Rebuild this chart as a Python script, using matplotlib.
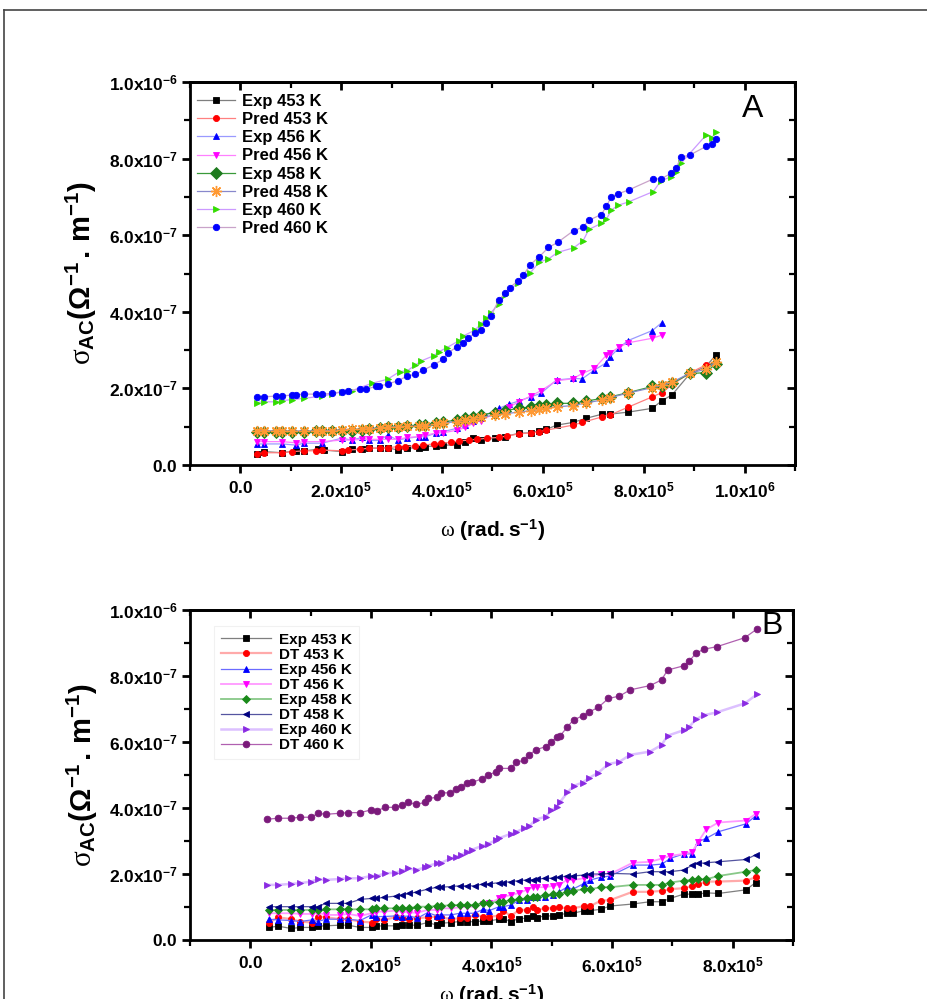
import numpy as np
import matplotlib
matplotlib.use("Agg")
import matplotlib.pyplot as plt
from matplotlib.ticker import MultipleLocator, FuncFormatter, NullFormatter
from matplotlib.lines import Line2D

plt.rcParams['font.family'] = ['Liberation Sans', 'DejaVu Sans']
plt.rcParams['mathtext.fontset'] = 'custom'
plt.rcParams['mathtext.rm'] = 'Liberation Sans'
plt.rcParams['mathtext.bf'] = 'Liberation Sans:bold'
plt.rcParams['mathtext.it'] = 'Liberation Serif'

# ---------------- Panel A data (omega in 1e5 rad/s, sigma in 1e-7 S/m) ----------------
omega_A453 = [0.32, 0.47, 0.83, 1.10, 1.26, 1.54, 1.66, 2.01, 2.21, 2.41,
              2.56, 2.76, 2.92, 3.12, 3.31, 3.55, 3.67, 3.87, 4.02, 4.30,
              4.46, 4.62, 4.77, 5.05, 5.25, 5.52, 5.76, 5.92, 6.07, 6.27,
              6.59, 6.86, 7.18, 7.34, 7.69, 8.17, 8.36, 8.56, 8.92, 9.23, 9.43]
exp_A453 = [0.30, 0.35, 0.32, 0.37, 0.37, 0.41, 0.39, 0.35, 0.41, 0.41,
            0.44, 0.44, 0.45, 0.39, 0.44, 0.45, 0.48, 0.50, 0.52, 0.52,
            0.59, 0.70, 0.65, 0.70, 0.74, 0.83, 0.84, 0.89, 0.93, 1.04,
            1.11, 1.22, 1.33, 1.33, 1.38, 1.48, 1.68, 1.83, 2.39, 2.57, 2.87]
omega_A453p = [0.32, 0.47, 0.83, 1.03, 1.26, 1.50, 1.62, 2.01, 2.13, 2.37,
               2.56, 2.76, 2.92, 3.12, 3.27, 3.47, 3.63, 3.83, 3.98, 4.18,
               4.34, 4.54, 4.70, 4.89, 5.13, 5.29, 5.52, 5.76, 5.92, 6.07,
               6.59, 6.78, 7.18, 7.34, 7.69, 8.17, 8.36, 8.56, 8.92, 9.23, 9.43]
pred_A453 = [0.29, 0.32, 0.32, 0.35, 0.37, 0.37, 0.39, 0.37, 0.39, 0.41,
             0.44, 0.44, 0.45, 0.48, 0.48, 0.50, 0.52, 0.55, 0.57, 0.59,
             0.63, 0.65, 0.67, 0.70, 0.72, 0.76, 0.81, 0.84, 0.87, 0.91,
             1.04, 1.11, 1.26, 1.31, 1.51, 1.78, 1.89, 2.09, 2.41, 2.61, 2.70]

omega_A456 = [0.32, 0.47, 0.83, 1.10, 1.26, 1.62, 2.01, 2.21, 2.41, 2.56,
              2.76, 2.92, 3.12, 3.31, 3.55, 3.67, 3.87, 4.02, 4.30, 4.46,
              4.62, 4.77, 5.05, 5.13, 5.33, 5.52, 5.76, 5.96, 6.27, 6.59,
              6.78, 7.02, 7.26, 7.34, 7.50, 7.69, 8.17, 8.36]
exp_A456 = [0.55, 0.55, 0.55, 0.52, 0.57, 0.57, 0.70, 0.65, 0.72, 0.64,
            0.64, 0.78, 0.65, 0.70, 0.74, 0.74, 0.83, 0.87, 0.96, 1.04,
            1.16, 1.22, 1.44, 1.48, 1.59, 1.67, 1.78, 1.87, 2.22, 2.26,
            2.25, 2.48, 2.67, 2.83, 3.05, 3.25, 3.51, 3.72]
pred_A456 = [0.61, 0.61, 0.61, 0.58, 0.61, 0.61, 0.65, 0.65, 0.67, 0.67,
             0.67, 0.67, 0.67, 0.72, 0.74, 0.78, 0.83, 0.84, 0.91, 0.98,
             1.09, 1.16, 1.35, 1.39, 1.51, 1.65, 1.80, 1.94, 2.20, 2.25,
             2.39, 2.52, 2.87, 2.93, 3.07, 3.19, 3.31, 3.39]

omega_A458 = [0.32, 0.47, 0.71, 0.83, 1.03, 1.26, 1.50, 1.62, 1.81, 2.01,
              2.21, 2.41, 2.56, 2.76, 2.92, 3.12, 3.31, 3.55, 3.67, 3.87,
              4.02, 4.30, 4.46, 4.62, 4.77, 5.05, 5.25, 5.52, 5.76, 5.92,
              6.07, 6.27, 6.59, 6.86, 7.18, 7.34, 7.69, 8.17, 8.36, 8.56,
              8.92, 9.23, 9.43]
exp_A458 = [0.87, 0.87, 0.87, 0.87, 0.87, 0.87, 0.88, 0.88, 0.88, 0.90,
            0.90, 0.91, 0.93, 0.96, 0.98, 1.00, 1.02, 1.04, 1.04, 1.09,
            1.13, 1.17, 1.22, 1.26, 1.31, 1.37, 1.42, 1.48, 1.51, 1.54,
            1.57, 1.61, 1.61, 1.67, 1.74, 1.78, 1.89, 2.05, 2.06, 2.13,
            2.39, 2.41, 2.65]
pred_A458 = [0.90, 0.90, 0.89, 0.89, 0.89, 0.89, 0.89, 0.90, 0.90, 0.92,
             0.93, 0.94, 0.95, 0.97, 0.99, 1.00, 1.01, 1.02, 1.03, 1.06,
             1.10, 1.13, 1.17, 1.21, 1.25, 1.30, 1.34, 1.38, 1.42, 1.45,
             1.48, 1.52, 1.55, 1.62, 1.70, 1.76, 1.88, 2.02, 2.08, 2.16,
             2.40, 2.50, 2.70]

omega_A460e = [0.32, 0.47, 0.71, 0.83, 1.03, 1.26, 1.62, 1.81, 2.01, 2.21,
               2.60, 2.92, 3.16, 3.31, 3.47, 3.59, 3.83, 3.94, 4.09, 4.34,
               4.42, 4.65, 4.77, 4.88, 4.97, 5.12, 5.25, 5.50, 5.75, 5.93,
               6.11, 6.29, 6.61, 6.80, 6.91, 7.16, 7.26, 7.36, 7.49, 7.70,
               8.19, 8.34, 8.55, 8.64, 8.74, 9.24, 9.35, 9.44]
exp_A460 = [1.63, 1.65, 1.65, 1.68, 1.71, 1.74, 1.80, 1.85, 1.91, 1.94,
            2.13, 2.24, 2.44, 2.46, 2.61, 2.72, 2.85, 2.96, 3.06, 3.25,
            3.37, 3.52, 3.68, 3.83, 3.98, 4.20, 4.44, 4.76, 5.02, 5.30,
            5.38, 5.55, 5.67, 5.86, 6.15, 6.31, 6.42, 6.66, 6.78, 6.87,
            7.14, 7.42, 7.53, 7.65, 7.88, 8.62, 8.55, 8.70]
omega_A460p = [0.32, 0.47, 0.71, 0.83, 1.03, 1.10, 1.26, 1.50, 1.62, 1.81,
               2.01, 2.13, 2.37, 2.49, 2.68, 2.74, 2.92, 3.12, 3.31, 3.47,
               3.63, 3.83, 4.02, 4.12, 4.30, 4.42, 4.51, 4.65, 4.77, 4.88,
               4.97, 5.12, 5.25, 5.34, 5.50, 5.61, 5.75, 5.93, 6.11, 6.29,
               6.61, 6.80, 6.91, 7.16, 7.26, 7.36, 7.49, 7.70, 8.19, 8.34,
               8.55, 8.64, 8.74, 8.91, 9.24, 9.35, 9.44]
pred_A460 = [1.78, 1.78, 1.80, 1.80, 1.83, 1.83, 1.85, 1.85, 1.85, 1.87,
             1.91, 1.93, 1.98, 1.98, 2.05, 2.06, 2.11, 2.20, 2.32, 2.37,
             2.48, 2.61, 2.76, 2.93, 3.09, 3.18, 3.31, 3.44, 3.52, 3.72,
             3.89, 4.30, 4.48, 4.63, 4.80, 4.95, 5.23, 5.44, 5.68, 5.81,
             6.12, 6.21, 6.39, 6.54, 6.76, 7.01, 7.08, 7.18, 7.47, 7.47,
             7.62, 7.75, 8.04, 8.09, 8.32, 8.37, 8.51]

# ---------------- Panel B data ----------------
omega_B = [0.31, 0.46, 0.68, 0.83, 1.02, 1.12, 1.25, 1.49, 1.62, 1.82,
           2.01, 2.08, 2.21, 2.41, 2.51, 2.64, 2.77, 2.94, 3.10, 3.17,
           3.33, 3.47, 3.60, 3.72, 3.86, 3.96, 4.13, 4.19, 4.32, 4.46,
           4.59, 4.69, 4.75, 4.88, 5.02, 5.12, 5.25, 5.35, 5.54, 5.64,
           5.81, 5.97, 6.34, 6.63, 6.83, 6.96, 7.19, 7.33, 7.43, 7.56,
           7.76, 8.22, 8.38]
exp_B453 = [0.38, 0.42, 0.35, 0.38, 0.38, 0.42, 0.43, 0.45, 0.45, 0.38,
            0.38, 0.42, 0.43, 0.43, 0.45, 0.45, 0.45, 0.53, 0.45, 0.51,
            0.53, 0.56, 0.56, 0.55, 0.58, 0.58, 0.63, 0.64, 0.56, 0.65,
            0.66, 0.73, 0.68, 0.73, 0.73, 0.76, 0.81, 0.81, 0.89, 0.89,
            0.93, 1.03, 1.09, 1.16, 1.16, 1.26, 1.39, 1.39, 1.39, 1.43,
            1.41, 1.52, 1.74]
dt_B453 = [0.53, 0.69, 0.63, 0.56, 0.53, 0.71, 0.69, 0.63, 0.63, 0.56,
           0.53, 0.63, 0.61, 0.69, 0.66, 0.63, 0.66, 0.69, 0.71, 0.69,
           0.63, 0.66, 0.66, 0.76, 0.71, 0.71, 0.73, 0.89, 0.73, 0.91,
           0.91, 0.99, 0.91, 0.96, 0.96, 0.99, 0.96, 0.96, 1.03, 1.03,
           1.19, 1.21, 1.46, 1.46, 1.49, 1.54, 1.57, 1.64, 1.70, 1.77,
           1.77, 1.80, 1.90]
exp_B456 = [0.63, 0.61, 0.59, 0.56, 0.61, 0.56, 0.63, 0.63, 0.63, 0.59,
            0.76, 0.71, 0.71, 0.73, 0.71, 0.73, 0.66, 0.83, 0.73, 0.76,
            0.76, 0.81, 0.81, 0.81, 0.93, 0.89, 1.01, 1.01, 1.06, 1.21,
            1.21, 1.31, 1.31, 1.31, 1.36, 1.46, 1.60, 1.54, 1.72, 1.82,
            1.90, 1.94, 2.27, 2.27, 2.30, 2.47, 2.61, 2.61, 2.98, 3.08,
            3.28, 3.52, 3.76]
dt_B456 = [0.81, 0.81, 0.81, 0.79, 0.79, 0.83, 0.76, 0.76, 0.79, 0.73,
           0.81, 0.86, 0.86, 0.89, 0.86, 0.83, 0.83, 0.91, 0.91, 0.96,
           0.96, 0.99, 1.01, 1.01, 1.09, 1.11, 1.26, 1.31, 1.36, 1.43,
           1.52, 1.60, 1.60, 1.60, 1.64, 1.67, 1.82, 1.82, 1.87, 1.92,
           2.00, 2.00, 2.34, 2.37, 2.47, 2.55, 2.61, 2.68, 2.98, 3.35,
           3.56, 3.62, 3.82]
exp_B458 = [0.91, 0.91, 0.91, 0.91, 0.91, 0.91, 0.93, 0.93, 0.93, 0.93,
            0.93, 0.96, 0.96, 0.96, 0.96, 0.96, 1.01, 1.01, 1.03, 1.03,
            1.06, 1.06, 1.06, 1.06, 1.13, 1.13, 1.16, 1.16, 1.21, 1.23,
            1.26, 1.29, 1.31, 1.36, 1.38, 1.39, 1.46, 1.49, 1.54, 1.54,
            1.60, 1.60, 1.67, 1.67, 1.67, 1.74, 1.80, 1.82, 1.84, 1.84,
            1.94, 2.07, 2.12]
dt_B458 = [1.01, 1.01, 1.01, 1.01, 1.01, 1.01, 1.11, 1.11, 1.11, 1.23,
           1.26, 1.26, 1.29, 1.33, 1.36, 1.41, 1.46, 1.54, 1.60, 1.60,
           1.62, 1.64, 1.64, 1.64, 1.70, 1.70, 1.74, 1.74, 1.77, 1.80,
           1.82, 1.82, 1.84, 1.87, 1.87, 1.90, 1.94, 1.94, 1.97, 2.00,
           2.00, 2.02, 2.00, 2.07, 2.07, 2.07, 2.12, 2.27, 2.32, 2.34,
           2.37, 2.44, 2.58]
omega_B460 = [0.28, 0.46, 0.67, 0.82, 1.01, 1.12, 1.25, 1.49, 1.62, 1.82,
              2.00, 2.10, 2.24, 2.40, 2.52, 2.62, 2.75, 2.90, 2.94, 3.09,
              3.17, 3.32, 3.41, 3.50, 3.59, 3.68, 3.84, 3.95, 4.08, 4.12,
              4.32, 4.41, 4.54, 4.63, 4.73, 4.90, 4.99, 5.08, 5.14, 5.26,
              5.36, 5.51, 5.61, 5.77, 5.94, 6.12, 6.30, 6.63, 6.82, 6.92,
              7.19, 7.28, 7.39, 7.52, 7.74, 8.20, 8.40]
exp_B460 = [1.67, 1.67, 1.70, 1.72, 1.77, 1.84, 1.82, 1.85, 1.87, 1.87,
            1.94, 1.94, 2.02, 2.04, 2.10, 2.17, 2.12, 2.20, 2.24, 2.32,
            2.34, 2.47, 2.51, 2.58, 2.68, 2.74, 2.85, 2.92, 3.03, 3.08,
            3.22, 3.28, 3.38, 3.45, 3.65, 3.74, 3.93, 4.03, 4.19, 4.47,
            4.67, 4.77, 4.90, 5.07, 5.33, 5.40, 5.61, 5.71, 5.91, 6.19,
            6.36, 6.46, 6.69, 6.81, 6.90, 7.17, 7.44]
dt_B460 = [3.66, 3.69, 3.69, 3.72, 3.72, 3.84, 3.81, 3.84, 3.86, 3.86,
           3.94, 3.92, 4.02, 4.02, 4.08, 4.17, 4.11, 4.17, 4.29, 4.32,
           4.46, 4.46, 4.57, 4.65, 4.75, 4.78, 4.88, 5.00, 5.10, 5.20,
           5.20, 5.38, 5.45, 5.61, 5.76, 5.86, 6.01, 6.14, 6.19, 6.46,
           6.67, 6.79, 6.90, 7.05, 7.32, 7.39, 7.58, 7.71, 7.88, 8.18,
           8.31, 8.45, 8.69, 8.81, 8.89, 9.16, 9.42]

WS = 1e5   # omega unit
SS = 1e-7  # sigma unit

fig = plt.figure(figsize=(9.28, 9.99), dpi=100)
W, H = 928, 999

def px_axes(l, t, r, b):
    return fig.add_axes([l / W, 1 - b / H, (r - l) / W, (b - t) / H])

axA = px_axes(190, 82, 795, 465)
axB = px_axes(190, 610, 793, 940)

def sci_fmt(v, pos):
    if abs(v) < 1e-30:
        return r'$\mathbf{0.0}$'
    e = int(np.floor(np.log10(abs(v)) + 1e-9))
    m = v / 10 ** e
    return r'$\mathbf{%.1fx10^{%d}}$' % (m, e)

YLABEL = r'$\sigma_{\mathbf{AC}}\mathbf{(\Omega^{-1}\,.\,m^{-1})}$'
XLABEL = r'$\omega$ $\mathbf{(rad.s^{-1})}$'

def style_axes(ax, xmin, xmax):
    ax.set_xlim(xmin, xmax)
    ax.set_ylim(0, 1e-6)
    ax.xaxis.set_major_locator(MultipleLocator(2e5))
    ax.xaxis.set_minor_locator(MultipleLocator(1e5))
    ax.yaxis.set_major_locator(MultipleLocator(2e-7))
    ax.yaxis.set_minor_locator(MultipleLocator(1e-7))
    ax.xaxis.set_major_formatter(FuncFormatter(sci_fmt))
    ax.yaxis.set_major_formatter(FuncFormatter(sci_fmt))
    for s in ax.spines.values():
        s.set_linewidth(2.0)
    ax.tick_params(which='major', direction='out', length=6, width=2.0, labelsize=12.5, pad=3)
    ax.tick_params(axis='x', which='major', pad=5)
    ax.tick_params(which='minor', direction='out', length=4, width=1.6)
    sx = ax.secondary_xaxis('top')
    sx.xaxis.set_major_locator(MultipleLocator(2e5))
    sx.xaxis.set_minor_locator(MultipleLocator(1e5))
    sx.xaxis.set_major_formatter(NullFormatter())
    sx.tick_params(which='major', direction='in', length=6, width=2.0)
    sx.tick_params(which='minor', direction='in', length=4, width=1.6)
    sx.spines['top'].set_linewidth(2.0)
    sy = ax.secondary_yaxis('right')
    sy.yaxis.set_major_locator(MultipleLocator(2e-7))
    sy.yaxis.set_minor_locator(MultipleLocator(1e-7))
    sy.yaxis.set_major_formatter(NullFormatter())
    sy.tick_params(which='major', direction='in', length=6, width=2.0)
    sy.tick_params(which='minor', direction='in', length=4, width=1.6)
    sy.spines['right'].set_linewidth(2.0)
    ax.set_ylabel(YLABEL, fontsize=21)
    ax.yaxis.set_label_coords(-0.15, 0.5)

def plot_series(ax, x, y, label, lc, mc, marker, ms, lw=0.9, mew=0.6):
    ax.plot(np.array(x) * WS, np.array(y) * SS, '-', color=lc, lw=lw,
            marker=marker, markersize=ms, markerfacecolor=mc, markeredgecolor=mc,
            markeredgewidth=mew, label=label)

# Panel A
plot_series(axA, omega_A453, exp_A453, 'Exp 453 K', '#7f7f7f', '#000000', 's', 4.0)
plot_series(axA, omega_A453p, pred_A453, 'Pred 453 K', '#ff8080', '#ff0000', 'o', 4.4)
plot_series(axA, omega_A456, exp_A456, 'Exp 456 K', '#9a9aff', '#0000ff', '^', 4.8)
plot_series(axA, omega_A456, pred_A456, 'Pred 456 K', '#ff80ff', '#ff00ff', 'v', 4.8)
plot_series(axA, omega_A458, exp_A458, 'Exp 458 K', '#3a9a3a', '#1e7b1e', 'D', 6.5)
plot_series(axA, omega_A458, pred_A458, 'Pred 458 K', '#8888cc', '#ff9933', (8, 2, 0), 8, mew=1.0)
plot_series(axA, omega_A460e, exp_A460, 'Exp 460 K', '#cc99ff', '#33dd00', '>', 4.8)
plot_series(axA, omega_A460p, pred_A460, 'Pred 460 K', '#c9a3c9', '#0000ff', 'o', 4.6)
style_axes(axA, -1e5, 1.1e6)
axA.set_xlabel(XLABEL, fontsize=15, va='top')
axA.xaxis.set_label_coords(0.5, -0.135)
legA = axA.legend(loc='upper left', bbox_to_anchor=(-0.005, 0.995), frameon=False,
                  prop={'weight': 'bold', 'size': 12}, handlelength=2.3,
                  labelspacing=0.19, handletextpad=0.4, borderaxespad=0.2)
axA.text(0.93, 0.93, 'A', transform=axA.transAxes, fontsize=23, ha='center', va='center')

# Panel B
plot_series(axB, omega_B, exp_B453, 'Exp 453 K', '#7f7f7f', '#000000', 's', 4.0)
plot_series(axB, omega_B, dt_B453, 'DT 453 K', '#ffaaaa', '#ff0000', 'o', 4.4, lw=1.6)
plot_series(axB, omega_B, exp_B456, 'Exp 456 K', '#6b6bff', '#0000ff', '^', 4.8)
plot_series(axB, omega_B, dt_B456, 'DT 456 K', '#ff99ff', '#ff00ff', 'v', 4.8, lw=1.3)
plot_series(axB, omega_B, exp_B458, 'Exp 458 K', '#88c888', '#1a8a1a', 'D', 4.0, lw=1.3)
plot_series(axB, omega_B, dt_B458, 'DT 458 K', '#5555a0', '#000080', '<', 4.8)
plot_series(axB, omega_B460, exp_B460, 'Exp 460 K', '#dcc0ff', '#8a2be2', '>', 4.8, lw=1.8)
plot_series(axB, omega_B460, dt_B460, 'DT 460 K', '#b060b0', '#7b1a7b', 'o', 4.8)
style_axes(axB, -1e5, 9e5)
axB.set_xlabel(XLABEL, fontsize=15, va='top')
axB.xaxis.set_label_coords(0.5, -0.128)
legB = axB.legend(loc='upper left', bbox_to_anchor=(0.04, 0.952), frameon=True,
                  prop={'weight': 'bold', 'size': 11}, handlelength=3.3,
                  labelspacing=0.07, handletextpad=0.5, borderaxespad=0.0,
                  fancybox=False, borderpad=0.45)
legB.get_frame().set_edgecolor('#eeeeee')
legB.get_frame().set_linewidth(0.8)
axB.text(0.965, 0.95, 'B', transform=axB.transAxes, fontsize=23, ha='center', va='center')

# Outer frame of the figure (top and left edges visible)
fig.add_artist(Line2D([4 / W, 1.0], [1 - 10 / H, 1 - 10 / H], transform=fig.transFigure,
                      color='#444444', lw=1.2))
fig.add_artist(Line2D([4 / W, 4 / W], [0.0, 1 - 10 / H], transform=fig.transFigure,
                      color='#444444', lw=1.2))

fig.savefig('out.png', dpi=100)
